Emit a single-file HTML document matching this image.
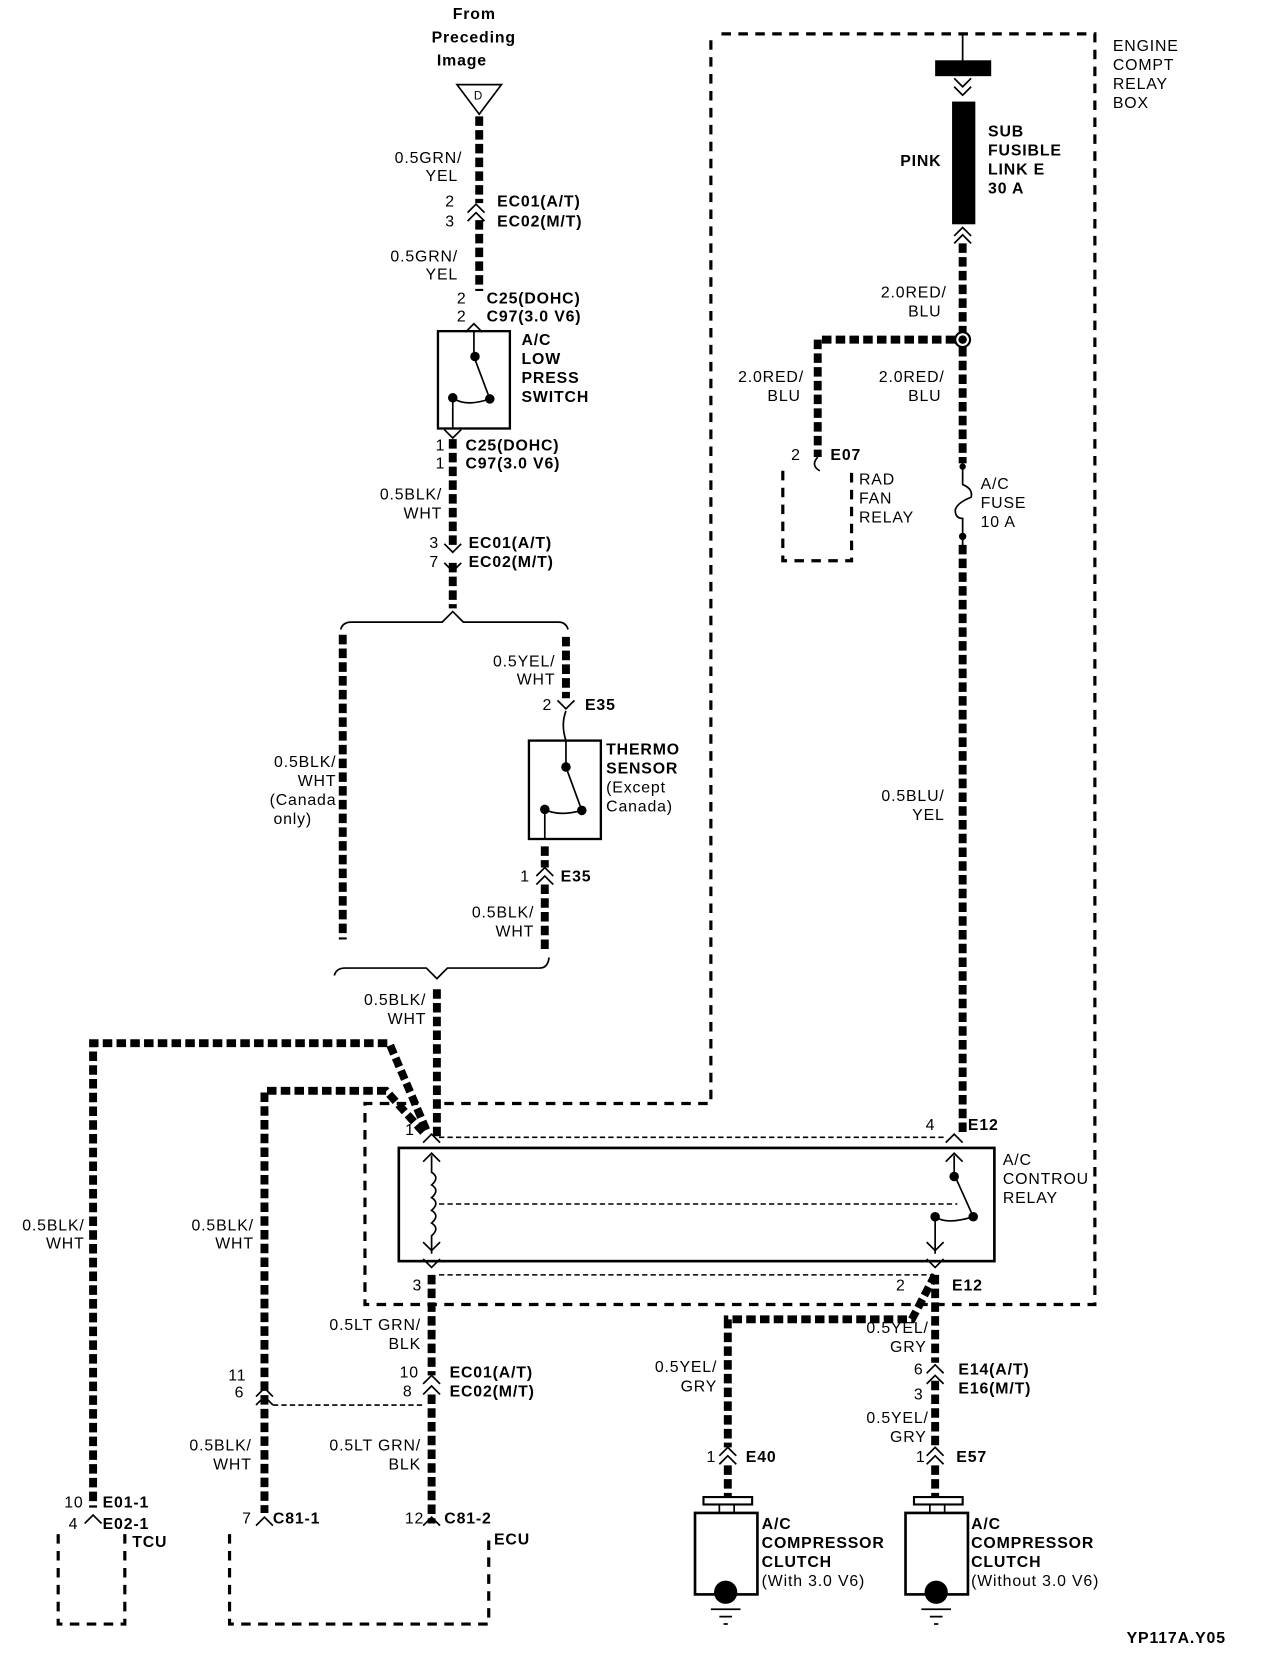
<!DOCTYPE html>
<html><head><meta charset="utf-8"><style>
html,body{margin:0;padding:0;background:#fff}
svg{display:block}
text{font-family:"Liberation Sans",sans-serif;font-size:15px;fill:#000;font-weight:bold;letter-spacing:0.8px}
.n{font-weight:normal}
.r{text-anchor:end}
.w{fill:none;stroke:#000;stroke-width:7.5;stroke-dasharray:9 4}
.t{fill:none;stroke:#000;stroke-width:1.6}
.d{fill:none;stroke:#000;stroke-width:3;stroke-dasharray:9 7}
.dt{fill:none;stroke:#000;stroke-width:1.5;stroke-dasharray:5 3}
</style></head><body>
<svg width="1280" height="1660" viewBox="0 0 1210 1569" preserveAspectRatio="none" xmlns="http://www.w3.org/2000/svg">
<defs>
<g id="cu"><polyline class="t" points="-8,8 0,0 8,8"/></g>
<g id="cd"><polyline class="t" points="-8,-8 0,0 8,-8"/></g>
</defs>
<!-- top -->
<text x="428" y="18">From</text><text x="408" y="40">Preceding</text><text x="413" y="62">Image</text>
<polygon points="432,80 474,80 453,108" fill="#fff" stroke="#000" stroke-width="1.6"/>
<text x="448" y="94" class="n" style="font-size:11px">D</text>
<path class="w" d="M453,110 V192 M453,208 V275"/>
<use href="#cu" x="450" y="193"/><use href="#cu" x="450" y="201"/>
<text x="437" y="154" class="r n">0.5GRN/</text><text x="433" y="171" class="r n">YEL</text>
<text x="430" y="195" class="r n">2</text><text x="430" y="214" class="r n">3</text>
<text x="470" y="195">EC01(A/T)</text><text x="470" y="214">EC02(M/T)</text>
<text x="433" y="247" class="r n">0.5GRN/</text><text x="433" y="264" class="r n">YEL</text>
<text x="441" y="287" class="r n">2</text><text x="441" y="304" class="r n">2</text>
<text x="460" y="287">C25(DOHC)</text><text x="460" y="304">C97(3.0 V6)</text>
<rect x="414" y="313" width="68" height="92" fill="none" stroke="#000" stroke-width="2.2"/>
<use href="#cu" x="448" y="306"/>
<path class="t" d="M448,313 V337 L463,377 M428,376 Q440,385 463,377 M428,376 V405"/>
<circle cx="449" cy="337" r="4.5"/><circle cx="463" cy="377" r="4.5"/><circle cx="428" cy="376" r="4.5"/>
<use href="#cd" x="428" y="414"/>
<text x="493" y="326">A/C</text><text x="493" y="344">LOW</text><text x="493" y="362">PRESS</text><text x="493" y="380">SWITCH</text>
<text x="421" y="426" class="r n">1</text><text x="421" y="443" class="r n">1</text>
<text x="440" y="426">C25(DOHC)</text><text x="440" y="443">C97(3.0 V6)</text>
<path class="w" d="M428,415 V515 M428,532 V575"/>
<use href="#cd" x="428" y="522"/><use href="#cd" x="428" y="540"/>
<text x="418" y="472" class="r n">0.5BLK/</text><text x="418" y="490" class="r n">WHT</text>
<text x="415" y="518" class="r n">3</text><text x="415" y="536" class="r n">7</text>
<text x="443" y="518">EC01(A/T)</text><text x="443" y="536">EC02(M/T)</text>
<path class="t" d="M322,595 Q324,588 332,588 H418 L428,578 L438,588 H528 Q535,588 537,595"/>
<path class="w" d="M324,600 V888"/>
<text x="318" y="725" class="r n">0.5BLK/</text><text x="318" y="743" class="r n">WHT</text><text x="318" y="761" class="r n">(Canada</text><text x="295" y="779" class="r n">only)</text>
<path class="w" d="M535,602 V660"/>
<use href="#cd" x="535" y="670"/>
<text x="525" y="630" class="r n">0.5YEL/</text><text x="525" y="647" class="r n">WHT</text>
<text x="522" y="671" class="r n">2</text><text x="553" y="671">E35</text>
<path class="t" d="M535,672 Q530,685 535,700"/>
<rect x="500" y="700" width="68" height="93" fill="none" stroke="#000" stroke-width="2.2"/>
<path class="t" d="M535,700 V725 L550,766 M515,765 Q528,772 550,766 M515,765 V793"/>
<circle cx="535" cy="725" r="4.5"/><circle cx="550" cy="766" r="4.5"/><circle cx="515" cy="765" r="4.5"/>
<text x="573" y="713">THERMO</text><text x="573" y="731">SENSOR</text><text x="573" y="749" class="n">(Except</text><text x="573" y="767" class="n">Canada)</text>
<path class="w" d="M515,800 V820 M515,836 V900"/>
<use href="#cu" x="515" y="820"/><use href="#cu" x="515" y="828"/>
<text x="501" y="833" class="r n">1</text><text x="530" y="833">E35</text>
<text x="505" y="867" class="r n">0.5BLK/</text><text x="505" y="885" class="r n">WHT</text>
<path class="t" d="M316,922 Q318,915 326,915 H403 L413,925 L423,915 H510 Q518,915 519,905"/>
<path class="w" d="M413,935 V1075"/>
<text x="403" y="950" class="r n">0.5BLK/</text><text x="403" y="968" class="r n">WHT</text>
<!-- left wires -->
<path class="w" d="M403,1068 L368,986 H88 V1425"/>
<path class="w" d="M400,1070 L365,1031 H250 V1430"/>
<text x="80" y="1163" class="r n">0.5BLK/</text><text x="80" y="1180" class="r n">WHT</text>
<text x="240" y="1163" class="r n">0.5BLK/</text><text x="240" y="1180" class="r n">WHT</text>
<!-- relay box dashed -->
<path class="d" d="M682,32 H1035 V1233 H345 V1043 H395 M420,1043 H672 V32"/>
<line x1="910" y1="32" x2="910" y2="58" class="t"/>
<rect x="884" y="57" width="53" height="15"/>
<use href="#cd" x="910" y="82"/><use href="#cd" x="910" y="90"/>
<rect x="900" y="96" width="22" height="116"/>
<use href="#cu" x="910" y="215"/><use href="#cu" x="910" y="222"/>
<text x="890" y="157" class="r">PINK</text>
<text x="934" y="129">SUB</text><text x="934" y="147">FUSIBLE</text><text x="934" y="165">LINK E</text><text x="934" y="183">30 A</text>
<text x="1052" y="48" class="n">ENGINE</text><text x="1052" y="66" class="n">COMPT</text><text x="1052" y="84" class="n">RELAY</text><text x="1052" y="102" class="n">BOX</text>
<path class="w" d="M910,230 V314 M910,328 V438"/>
<circle cx="910" cy="321" r="7" fill="#fff" stroke="#000" stroke-width="2"/><circle cx="910" cy="321" r="4"/>
<path class="w" d="M903,321 H773 V432"/>
<path class="t" d="M773,432 Q766,440 775,445"/>
<text x="895" y="281" class="r n">2.0RED/</text><text x="890" y="299" class="r n">BLU</text>
<text x="760" y="361" class="r n">2.0RED/</text><text x="757" y="379" class="r n">BLU</text>
<text x="893" y="361" class="r n">2.0RED/</text><text x="890" y="379" class="r n">BLU</text>
<text x="757" y="435" class="r n">2</text><text x="785" y="435">E07</text>
<path class="d" d="M740,445 V530 H805 V445"/>
<text x="812" y="458" class="n">RAD</text><text x="812" y="476" class="n">FAN</text><text x="812" y="494" class="n">RELAY</text>
<path class="t" d="M910,438 V458 Q920,462 918,470 Q905,475 903,482 Q903,490 910,490 V520"/>
<circle cx="910" cy="441" r="3"/><circle cx="910" cy="507" r="3.5"/>
<text x="927" y="462" class="n">A/C</text><text x="927" y="480" class="n">FUSE</text><text x="927" y="498" class="n">10 A</text>
<path class="w" d="M910,515 V1070"/>
<text x="893" y="757" class="r n">0.5BLU/</text><text x="893" y="775" class="r n">YEL</text>
<!-- relay -->
<rect x="377" y="1085" width="563" height="107" fill="none" stroke="#000" stroke-width="2.5"/>
<path class="dt" d="M415,1075 H895 M415,1138 H905 M415,1205 H880"/>
<use href="#cu" x="408" y="1072"/><use href="#cu" x="408" y="1090"/>
<use href="#cd" x="408" y="1182"/><use href="#cd" x="408" y="1198"/>
<use href="#cu" x="902" y="1072"/><use href="#cu" x="902" y="1090"/>
<use href="#cd" x="884" y="1182"/><use href="#cd" x="884" y="1198"/>
<path class="t" d="M408,1092 V1108 q8,5 0,12 q8,5 0,12 q8,5 0,12 q8,5 0,12 q8,5 0,12 V1185"/>
<path class="t" d="M902,1092 V1110 L920,1150 M884,1150 Q895,1158 920,1150 M884,1150 V1185"/>
<circle cx="902" cy="1112" r="4.5"/><circle cx="920" cy="1150" r="4.5"/><circle cx="884" cy="1150" r="4.5"/>
<text x="383" y="1073" class="n">1</text><text x="875" y="1068" class="n">4</text><text x="915" y="1068">E12</text>
<text x="948" y="1101" class="n">A/C</text><text x="948" y="1119" class="n">CONTROU</text><text x="948" y="1137" class="n">RELAY</text>
<text x="390" y="1220" class="n">3</text><text x="847" y="1220" class="n">2</text><text x="900" y="1220">E12</text>
<!-- bottom -->
<path class="w" d="M408,1205 V1300 M408,1318 V1440"/>
<use href="#cu" x="408" y="1300"/><use href="#cu" x="408" y="1310"/>
<use href="#cu" x="250" y="1312"/><use href="#cu" x="250" y="1320"/>
<path class="dt" d="M258,1328 H402"/>
<text x="398" y="1257" class="r n">0.5LT GRN/</text><text x="398" y="1275" class="r n">BLK</text>
<text x="396" y="1302" class="r n">10</text><text x="390" y="1320" class="r n">8</text>
<text x="425" y="1302">EC01(A/T)</text><text x="425" y="1320">EC02(M/T)</text>
<text x="233" y="1305" class="r n">11</text><text x="231" y="1321" class="r n">6</text>
<text x="398" y="1371" class="r n">0.5LT GRN/</text><text x="398" y="1389" class="r n">BLK</text>
<text x="238" y="1371" class="r n">0.5BLK/</text><text x="238" y="1389" class="r n">WHT</text>
<use href="#cu" x="88" y="1432"/><use href="#cu" x="250" y="1434"/><use href="#cu" x="408" y="1434"/>
<text x="79" y="1425" class="r n">10</text><text x="74" y="1445" class="r n">4</text>
<text x="97" y="1425">E01-1</text><text x="97" y="1445">E02-1</text>
<path class="d" d="M55,1450 V1535 H118 V1450"/>
<text x="125" y="1462">TCU</text>
<text x="238" y="1440" class="r n">7</text><text x="258" y="1440">C81-1</text>
<text x="401" y="1440" class="r n">12</text><text x="420" y="1440">C81-2</text>
<path class="d" d="M217,1450 V1535 H462 V1450"/>
<text x="467" y="1460">ECU</text>
<!-- compressor -->
<path class="w" d="M884,1205 L862,1247 H688 V1368 M688,1385 V1415"/>
<path class="w" d="M884,1205 V1288 M884,1305 V1368 M884,1385 V1415"/>
<use href="#cu" x="884" y="1290"/><use href="#cu" x="884" y="1300"/>
<use href="#cu" x="688" y="1368"/><use href="#cu" x="688" y="1376"/>
<use href="#cu" x="884" y="1368"/><use href="#cu" x="884" y="1376"/>
<text x="878" y="1260" class="r n">0.5YEL/</text><text x="876" y="1278" class="r n">GRY</text>
<text x="678" y="1297" class="r n">0.5YEL/</text><text x="678" y="1315" class="r n">GRY</text>
<text x="873" y="1299" class="r n">6</text><text x="873" y="1323" class="r n">3</text>
<text x="906" y="1299">E14(A/T)</text><text x="906" y="1317">E16(M/T)</text>
<text x="878" y="1345" class="r n">0.5YEL/</text><text x="876" y="1363" class="r n">GRY</text>
<text x="677" y="1382" class="r n">1</text><text x="705" y="1382">E40</text>
<text x="875" y="1382" class="r n">1</text><text x="904" y="1382">E57</text>
<g id="cl">
<rect x="665" y="1415" width="46" height="7" fill="#fff" stroke="#000" stroke-width="2"/>
<path class="t" d="M680,1422 V1430 M694,1422 V1430"/>
<rect x="657" y="1430" width="59" height="77" fill="#fff" stroke="#000" stroke-width="2.5"/>
<circle cx="686" cy="1505" r="11"/>
<path class="t" d="M672,1521 H700 M680,1528 H692 M684,1535 H688"/>
</g>
<use href="#cl" x="199" y="0"/>
<text x="720" y="1445">A/C</text><text x="720" y="1463">COMPRESSOR</text><text x="720" y="1481">CLUTCH</text><text x="720" y="1499" class="n">(With 3.0 V6)</text>
<text x="918" y="1445">A/C</text><text x="918" y="1463">COMPRESSOR</text><text x="918" y="1481">CLUTCH</text><text x="918" y="1499" class="n">(Without 3.0 V6)</text>
<text x="1065" y="1553">YP117A.Y05</text>
</svg>
</body></html>
